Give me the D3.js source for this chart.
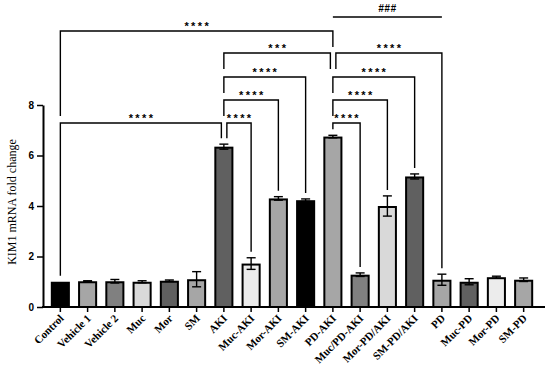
<!DOCTYPE html>
<html>
<head>
<meta charset="utf-8">
<script src="https://cdn.jsdelivr.net/npm/d3@7"></script>
<style>
  body { margin: 0; background: #fff; }
</style>
</head>
<body>
<script>
// group names, means and SEM
var categories = ['Control', 'Vehicle 1', 'Vehicle 2', 'Muc', 'Mor', 'SM',
                  'AKI', 'Muc-AKI', 'Mor-AKI', 'SM-AKI', 'PD-AKI',
                  'Muc/PD-AKI', 'Mor-PD/AKI', 'SM-PD/AKI',
                  'PD', 'Muc-PD', 'Mor-PD', 'SM-PD'];
var means  = [1.0, 1.02, 1.02, 1.0, 1.04, 1.1, 6.35, 1.72, 4.3, 4.23, 6.75,
              1.28, 4.0, 5.17, 1.08, 1.0, 1.18, 1.08];
var errors = [0, 0.02, 0.07, 0.04, 0.03, 0.3, 0.1, 0.23, 0.07, 0.05, 0.05,
              0.07, 0.4, 0.1, 0.22, 0.12, 0.04, 0.07];
var yTicks = [0, 2, 4, 6, 8];

// fill of each bar
var fills = ['#000000', '#a6a6a6', '#808080', '#d9d9d9', '#606060', '#a6a6a6',
             '#606060', '#ececec', '#a6a6a6', '#000000', '#a6a6a6',
             '#808080', '#d9d9d9', '#606060',
             '#a6a6a6', '#606060', '#ececec', '#a6a6a6'];

// significance brackets: from, to, label, level, left leg, right leg
var comparisons = [
  ['Control', 'AKI', '****', 0, 'bar', 'bar'],
  ['AKI', 'Muc-AKI', '****', 0, 'bar', 'bar'],
  ['AKI', 'Mor-AKI', '****', 1, 'short', 'bar'],
  ['AKI', 'SM-AKI', '****', 2, 'short', 'bar'],
  ['AKI', 'PD-AKI', '***', 3, 'short', 'short'],
  ['Control', 'PD-AKI', '****', 4, 'long', 'short'],
  ['PD-AKI', 'Muc/PD-AKI', '****', 0, 'bar', 'bar'],
  ['PD-AKI', 'Mor-PD/AKI', '****', 1, 'short', 'bar'],
  ['PD-AKI', 'SM-PD/AKI', '****', 2, 'short', 'bar'],
  ['PD-AKI', 'PD', '****', 3, 'short', 'bar'],
  ['PD-AKI', 'PD', '###', 5, 'none', 'none']
];

var w = 550,
    h = 368;

var svg = d3.select('body')
            .append('svg')
            .attr('width', w)
            .attr('height', h);

var xScale = d3.scaleBand()
               .domain(categories)
               .range([41, 543])
               .paddingInner(0.3)
               .paddingOuter(0.36);

var yScale = d3.scaleLinear()
               .domain([0, 8])
               .range([307, 105]);

var bw = xScale.bandwidth();
function cx(name) { return xScale(name) + bw / 2; }

// bars
svg.selectAll('rect.bar')
   .data(categories)
   .enter()
   .append('rect')
   .attr('class', 'bar')
   .attr('x', function(d) { return xScale(d) + 1; })
   .attr('y', function(d, i) { return yScale(means[i]) + 1; })
   .attr('width', bw - 2)
   .attr('height', function(d, i) { return yScale(0) - yScale(means[i]) - 1; })
   .attr('fill', function(d, i) { return fills[i]; })
   .attr('stroke', '#000')
   .attr('stroke-width', 2);

// error bars
var errs = svg.append('g')
              .attr('stroke', '#000')
              .attr('stroke-width', 1.4)
              .selectAll('g')
              .data(categories.filter(function(d, i) { return errors[i] > 0; }))
              .enter()
              .append('g');

errs.append('line')
    .attr('x1', cx).attr('x2', cx)
    .attr('y1', function(d) { var i = categories.indexOf(d); return yScale(means[i] - errors[i]); })
    .attr('y2', function(d) { var i = categories.indexOf(d); return yScale(means[i] + errors[i]); });
[1, -1].forEach(function(s) {
  errs.append('line')
      .attr('x1', function(d) { return cx(d) - 4.5; })
      .attr('x2', function(d) { return cx(d) + 4.5; })
      .attr('y1', function(d) { var i = categories.indexOf(d); return yScale(means[i] + s * errors[i]); })
      .attr('y2', function(d) { var i = categories.indexOf(d); return yScale(means[i] + s * errors[i]); });
});

// axes
var yAxis = d3.axisLeft(yScale)
              .tickValues(yTicks)
              .tickSize(6)
              .tickPadding(3)
              .tickSizeOuter(0);
var gy = svg.append('g')
            .attr('transform', 'translate(43,0)')
            .call(yAxis);
gy.select('.domain').attr('stroke-width', 2);
gy.selectAll('.tick line').attr('stroke-width', 1.5);
gy.selectAll('.tick text')
  .attr('font-family', 'Liberation Sans, Arial, sans-serif')
  .attr('font-weight', 'bold')
  .attr('font-size', '10px')
  .attr('fill', '#000');

var xAxis = d3.axisBottom(xScale)
              .tickSize(5)
              .tickSizeOuter(0)
              .tickFormat('');
var gx = svg.append('g')
            .attr('transform', 'translate(0,307)')
            .call(xAxis);
gx.select('.domain').remove();
gx.selectAll('.tick line').attr('stroke-width', 1.5);
svg.append('line')
   .attr('x1', 42).attr('x2', 545)
   .attr('y1', 307).attr('y2', 307)
   .attr('stroke', '#000')
   .attr('stroke-width', 2);

// rotated category labels
svg.selectAll('text.xlab')
   .data(categories)
   .enter()
   .append('text')
   .attr('class', 'xlab')
   .attr('transform', function(d) {
      return 'translate(' + (cx(d) + 4) + ',319) rotate(-45)';
   })
   .attr('text-anchor', 'end')
   .attr('font-family', 'Liberation Serif, Times New Roman, serif')
   .attr('font-weight', 'bold')
   .attr('font-size', '11px')
   .text(function(d) { return d; });

// y title
svg.append('text')
   .attr('transform', 'translate(16,202) rotate(-90)')
   .attr('text-anchor', 'middle')
   .attr('font-family', 'Liberation Serif, Times New Roman, serif')
   .attr('font-size', '12px')
   .text('KIM1 mRNA fold change');

// brackets
var levelY = [123, 100, 77, 53, 31, 17];

function legEnd(mode, name, top) {
  var i = categories.indexOf(name);
  if (mode === 'bar') return yScale(means[i] + errors[i]) - 6;
  if (mode === 'short') return top + 16;
  if (mode === 'long') return levelY[0] - 7;
  return top;
}

comparisons.forEach(function(c) {
  var top = levelY[c[3]];
  // nudge ends that meet another bracket on the same level
  var x1 = cx(c[0]), x2 = cx(c[1]);
  comparisons.forEach(function(o) {
    if (o === c || o[3] !== c[3]) return;
    if (o[1] === c[0]) x1 += 3;
    if (o[0] === c[1]) x2 -= 2.5;
  });
  var path = d3.path();
  path.moveTo(x1, legEnd(c[4], c[0], top));
  path.lineTo(x1, top);
  path.lineTo(x2, top);
  path.lineTo(x2, legEnd(c[5], c[1], top));
  svg.append('path')
     .attr('d', path.toString())
     .attr('fill', 'none')
     .attr('stroke', '#000')
     .attr('stroke-width', 1.4);

  var hash = c[2].charAt(0) === '#';
  svg.append('text')
     .attr('x', (x1 + x2) / 2 + (hash ? 0 : 1.2))
     .attr('y', hash ? top - 5 : top - 1)
     .attr('text-anchor', 'middle')
     .attr('font-family', 'Liberation Sans, Arial, sans-serif')
     .attr('font-weight', 'bold')
     .attr('font-style', hash ? 'italic' : 'normal')
     .attr('font-size', hash ? '10px' : '11px')
     .attr('letter-spacing', hash ? '0.5px' : '2.4px')
     .text(c[2]);
});
</script>
</body>
</html>
